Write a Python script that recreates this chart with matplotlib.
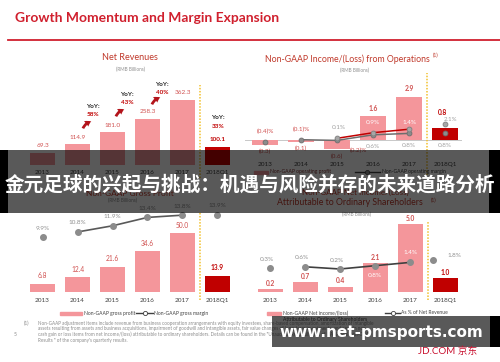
import matplotlib
matplotlib.use("Agg")
import matplotlib.pyplot as plt
from matplotlib.patches import Rectangle, FancyArrowPatch
from matplotlib.lines import Line2D

plt.rcParams['font.family'] = ['Lato', 'DejaVu Sans']

# ---- data ----
years = ['2013', '2014', '2015', '2016', '2017', '2018Q1']
revenue = [69.3, 114.9, 181.0, 258.3, 362.3, 100.1]
revenue_yoy = ['58%', '43%', '40%', '33%']
op_income = [-0.3, -0.1, -0.6, 1.6, 2.9, 0.8]
op_margin = [-0.4, -0.1, -0.2, 0.6, 0.8, 0.8]
op_margin_core = [0.1, 0.9, 1.4, 2.1]  # 2015 .. 2018Q1
gross_profit = [6.8, 12.4, 21.6, 34.6, 50.0, 13.9]
gross_margin = [9.9, 10.8, 11.9, 13.4, 13.8, 13.9]
net_income = [0.2, 0.7, 0.4, 2.1, 5.0, 1.0]
net_margin = [0.3, 0.6, 0.2, 0.8, 1.4, 1.8]

footnote = [
    "Non-GAAP adjustment items include revenue from business cooperation arrangements with equity investees, share-based compensation, amortization of intangible",
    "assets resulting from assets and business acquisitions, impairment of goodwill and intangible assets, fair value changes of long-term investments, and certain non-",
    "cash gain or loss items from net income/(loss) attributable to ordinary shareholders. Details can be found in the \"Unaudited Reconciliation of GAAP and Non-GAAP",
    "Results \" of the company's quarterly results.",
]

PINK = '#F4969B'
DARK = '#C00000'
LABEL = '#D0504F'
TITLE_RED = '#D0202E'
GRAY = '#808080'
GOLD = '#F2C12E'

W, H = 500, 362
fig = plt.figure(figsize=(5.0, 3.62), dpi=100)


def fx(x):
    return x / W


def fy(y):
    return 1 - y / H


def box(x0, y0, x1, y1):
    return [x0 / W, 1 - y1 / H, (x1 - x0) / W, (y1 - y0) / H]


def ptext(x, y, s, **kw):
    kw.setdefault('ha', 'center')
    kw.setdefault('va', 'center')
    return fig.text(fx(x), fy(y), s, **kw)


def pct(v):
    return '({:.1f})%'.format(-v) if v < 0 else '{:.1f}%'.format(v)


def num(v):
    return '({:.1f})'.format(-v) if v < 0 else '{:.1f}'.format(v)


def setup(ax, pad):
    for s in ax.spines.values():
        s.set_visible(False)
    ax.set_yticks([])
    ax.set_xticks(range(len(years)))
    ax.set_xticklabels(years, fontsize=4.6, color='#404040')
    ax.tick_params(axis='x', length=0, pad=pad)
    ax.axhline(0, color='#C8C8C8', lw=0.7, zorder=1)


def divider(ax, y0, y1, top, bot):
    h = y1 - y0
    ax.axvline(4.5, ymin=(y1 - bot) / h, ymax=(y1 - top) / h, color=GOLD,
               ls=(0, (1, 1)), lw=1.1, clip_on=False)


def bars(ax, vals):
    colors = [PINK] * (len(vals) - 1) + [DARK]
    return ax.bar(range(len(vals)), vals, width=0.714, color=colors, zorder=2)


# ---- slide title ----
ptext(15, 18, 'Growth Momentum and Margin Expansion', ha='left', fontsize=10.0,
      fontweight='bold', color=TITLE_RED)
fig.add_artist(Line2D([fx(8), 1], [fy(40), fy(40)], color=TITLE_RED, lw=1.3))

# ---- Net revenues ----
ax1 = fig.add_axes(box(20, 80, 240, 165))
ax1.set_xlim(-0.643, 5.643)
ax1.set_ylim(0, 85 / 0.18)
setup(ax1, 3.5)
bars(ax1, revenue)
for i, v in enumerate(revenue):
    last = i == len(revenue) - 1
    ax1.annotate('{:.1f}'.format(v), (i, v), xytext=(0, 7), textcoords='offset pixels',
                 ha='center', va='center', fontsize=4.6,
                 color=DARK if last else LABEL, fontweight='bold' if last else 'normal')
divider(ax1, 80, 165, 85, 178)
ptext(130, 58, 'Net Revenues', fontsize=6.5, color='#C0392B')
ptext(130, 69, '(RMB Billions)', fontsize=3.4, color='#909090')
yoy_pos = [(93, 107), (127, 95), (162, 84), (218, 118)]
for (x, y), s in zip(yoy_pos, revenue_yoy):
    ptext(x, y, 'YoY:', fontsize=4.6, fontweight='bold', color='#262626')
    ptext(x, y + 8, s, fontsize=4.6, fontweight='bold', color=DARK)
for x, y in [(82, 131), (115, 119), (151, 107)]:
    fig.add_artist(FancyArrowPatch((fx(x), fy(y)), (fx(x + 12), fy(y - 10)),
                                   transform=fig.transFigure, connectionstyle='arc3,rad=-0.35',
                                   arrowstyle='simple,head_length=4,head_width=5,tail_width=2',
                                   mutation_scale=1, color='#B3141B', lw=0))

# ---- Non-GAAP income from operations ----
ax2 = fig.add_axes(box(245, 80, 462, 155))
ax2.set_xlim(-0.556, 5.47)
ax2.set_ylim(-15 / 15, 60 / 15)
setup(ax2, 5)
bars(ax2, op_income)
m2 = ax2.twinx()
m2.set_ylim(-16 / 7, 59 / 7)
m2.axis('off')
m2.plot([0], op_margin[:1], 'o', ms=3.5, color='#8C8C8C', mec='#6E6E6E', mew=0.6)
m2.plot(range(1, 5), op_margin[1:5], '-o', lw=1.1, ms=3.5, color='#6E6E6E',
        mfc='#8C8C8C', mec='#6E6E6E', mew=0.6)
m2.plot([5], op_margin[5:], 'o', ms=3.5, color='#8C8C8C', mec='#6E6E6E', mew=0.6)
m2.plot(range(2, 5), op_margin_core[:3], '-o', lw=1.1, ms=3.5, color=DARK,
        mfc='#A6A6A6', mec='#7F7F7F', mew=0.6)
m2.plot([5], op_margin_core[3:], 'o', ms=3.5, mfc='#A6A6A6', mec='#7F7F7F', mew=0.6)
for i, v in enumerate(op_income):
    last = i == len(op_income) - 1
    if v < 0:
        ax2.annotate(num(v), (i, v), xytext=(0, -7), textcoords='offset pixels',
                     ha='center', va='center', fontsize=4.6, color=LABEL)
    elif last:
        ax2.annotate(num(v), (i, v), xytext=(-3, 16), textcoords='offset pixels',
                     ha='center', va='center', fontsize=4.8, fontweight='bold', color=DARK)
    else:
        ax2.annotate(num(v), (i, v), xytext=(0, 8), textcoords='offset pixels',
                     ha='center', va='center', fontsize=4.8, fontweight='bold', color=LABEL)
for i, v in enumerate(op_margin):
    if i < 2:
        m2.annotate(pct(v), (i, v), xytext=(0, 10), textcoords='offset pixels',
                    ha='center', va='center', fontsize=4.6, color=LABEL)
    elif i == 2:
        m2.annotate(pct(v), (i, v), xytext=(21, -10), textcoords='offset pixels',
                    ha='center', va='center', fontsize=4.6, color=LABEL)
    else:
        m2.annotate(pct(v), (i, v), xytext=(0, -12), textcoords='offset pixels',
                    ha='center', va='center', fontsize=4.6, color='#A0A0A0')
for j, v in enumerate(op_margin_core):
    i = j + 2
    if i in (3, 4):
        m2.annotate(pct(v), (i, 0), xytext=(0, 17), textcoords='offset pixels',
                    ha='center', va='center', fontsize=4.6, color='white')
    elif i == 2:
        m2.annotate(pct(v), (i, v), xytext=(2, 11), textcoords='offset pixels',
                    ha='center', va='center', fontsize=4.6, color='#A0A0A0')
    else:
        m2.annotate(pct(v), (i, v), xytext=(5, 5), textcoords='offset pixels',
                    ha='center', va='center', fontsize=4.4, color='#A0A0A0')
divider(ax2, 80, 155, 73, 175)
ptext(347, 59, 'Non-GAAP Income/(Loss) from Operations', fontsize=6.3, color='#C0392B')
ptext(436, 55, '(1)', fontsize=3.5, color='#C0392B')
ptext(355, 70, '(RMB Billions)', fontsize=3.4, color='#909090')
fig.add_artist(Rectangle((fx(254), fy(174)), 14 / W, 3 / H, transform=fig.transFigure, color=PINK))
ptext(270, 172, 'Non-GAAP operating profit', ha='left', fontsize=3.6, color='#7F3030')
fig.add_artist(Line2D([fx(355), fx(380)], [fy(172)] * 2, color='#404040', lw=1.0))
fig.add_artist(Line2D([fx(367)], [fy(172)], marker='o', ms=3, color='#8C8C8C', mec='#404040', mew=0.5))
ptext(382, 172, 'Non-GAAP operating margin', ha='left', fontsize=3.6, color='#404040')

# ---- Non-GAAP gross profit ----
ax3 = fig.add_axes(box(20, 205, 240, 292))
ax3.set_xlim(-0.643, 5.643)
ax3.set_ylim(0, 87 / 1.18)
setup(ax3, 4)
bars(ax3, gross_profit)
m3 = ax3.twinx()
m3.set_ylim(9.9 - 55 / 5.6, 9.9 + 32 / 5.6)
m3.axis('off')
m3.plot([0], gross_margin[:1], 'o', ms=4, color='#8C8C8C')
m3.plot(range(1, 5), gross_margin[1:5], '-o', lw=1.2, ms=4, color='#595959', mfc='#8C8C8C', mec='#8C8C8C')
m3.plot([5], gross_margin[5:], 'o', ms=4, color='#8C8C8C')
for i, v in enumerate(gross_profit):
    last = i == len(gross_profit) - 1
    ax3.annotate('{:.1f}'.format(v), (i, v), xytext=(0, 8), textcoords='offset pixels',
                 ha='center', va='center', fontsize=4.8,
                 color=DARK if last else LABEL, fontweight='bold' if last else 'normal')
for i, v in enumerate(gross_margin):
    m3.annotate(pct(v), (i, v), xytext=(0, 9), textcoords='offset pixels',
                ha='center', va='center', fontsize=4.6, color='#909090')
divider(ax3, 205, 292, 212, 300)
ptext(130, 193, 'Non-GAAP Gross Profit', fontsize=6.0, color='#C0392B')
ptext(122, 200, '(RMB Billions)', fontsize=3.4, color='#909090')
fig.add_artist(Rectangle((fx(60), fy(314.5)), 22 / W, 3 / H, transform=fig.transFigure, color=PINK))
ptext(84, 313, 'Non-GAAP gross profit', ha='left', fontsize=3.6, color='#404040')
fig.add_artist(Line2D([fx(136), fx(153)], [fy(313)] * 2, color='#404040', lw=1.0))
fig.add_artist(Line2D([fx(144.5)], [fy(313)], marker='o', ms=3, color='white', mec='#404040', mew=0.6))
ptext(154, 313, 'Non-GAAP gross margin', ha='left', fontsize=3.6, color='#404040')

# ---- Non-GAAP net income ----
ax4 = fig.add_axes(box(248, 205, 468, 292))
ax4.set_xlim(-0.629, 5.657)
ax4.set_ylim(0, 87 / 13.6)
setup(ax4, 4)
bars(ax4, net_income)
m4 = ax4.twinx()
m4.set_ylim(-21.9 / 5.5, 65.1 / 5.5)
m4.axis('off')
m4.plot([0], net_margin[:1], 'o', ms=4, color='#8C8C8C')
m4.plot(range(1, 5), net_margin[1:5], '-o', lw=1.2, ms=4, color='#404040', mfc='#8C8C8C', mec='#8C8C8C')
m4.plot([4.65], net_margin[5:], 'o', ms=4, color='#8C8C8C')
for i, v in enumerate(net_income):
    last = i == len(net_income) - 1
    ax4.annotate('{:.1f}'.format(v), (i, v), xytext=(0, 6), textcoords='offset pixels',
                 ha='center', va='center', fontsize=4.8, fontweight='bold',
                 color=DARK if last else LABEL)
for i, v in enumerate(net_margin):
    if i in (3, 4):
        m4.annotate(pct(v), (i, v), xytext=(0, 10 if i == 4 else -10), textcoords='offset pixels',
                    ha='center', va='center', fontsize=4.6, color='white')
    elif i == 5:
        m4.annotate(pct(v), (4.65, v), xytext=(22, 5), textcoords='offset pixels',
                    ha='center', va='center', fontsize=4.6, color='#909090')
    else:
        m4.annotate(pct(v), (i, v), xytext=(-3, 9), textcoords='offset pixels',
                    ha='center', va='center', fontsize=4.6, color='#909090')
divider(ax4, 205, 292, 222, 300)
ptext(355, 192, 'Non-GAAP Net Income/(Loss)', fontsize=5.8, color='#C0392B')
ptext(350, 203, 'Attributable to Ordinary Shareholders', fontsize=6.3, color='#C0392B')
ptext(434, 200, '(1)', fontsize=3.5, color='#C0392B')
ptext(356, 214, '(RMB Billions)', fontsize=3.4, color='#909090')
fig.add_artist(Rectangle((fx(267), fy(314.5)), 14 / W, 3 / H, transform=fig.transFigure, color=PINK))
ptext(283, 313, 'Non-GAAP Net income/(loss)', ha='left', fontsize=3.6, color='#404040')
ptext(283, 319, 'Attributable to Ordinary Shareholders', ha='left', fontsize=3.6, color='#404040')
fig.add_artist(Line2D([fx(385), fx(400)], [fy(313)] * 2, color='#404040', lw=1.0))
fig.add_artist(Line2D([fx(392.5)], [fy(313)], marker='o', ms=3, color='white', mec='#404040', mew=0.6))
ptext(401, 313, 'As % of Net Revenue', ha='left', fontsize=3.6, color='#404040')

# ---- footnote ----
ptext(26, 323, '(1)', fontsize=3.4, color='#8C8C8C')
ptext(15, 334, '5', fontsize=3.6, color='#8C8C8C')
for k, line in enumerate(footnote):
    ptext(38, 323 + 5.7 * k, line, ha='left', fontsize=3.35, color='#8C8C8C')
ptext(418, 351, 'JD.COM 京东', ha='left', fontsize=7, color='#C8102E',
      family=['Lato', 'Noto Sans CJK SC'], zorder=12)

# ---- overlays ----
fig.add_artist(Rectangle((0, fy(213)), 1, 63 / H, transform=fig.transFigure,
                         color='black', alpha=0.65, lw=0, zorder=10))
for x0, x1 in [(0, 8), (489, 500)]:
    fig.add_artist(Rectangle((fx(x0), fy(213)), (x1 - x0) / W, 63 / H, transform=fig.transFigure,
                             color='black', lw=0, zorder=10))
ptext(249.5, 185, '金元足球的兴起与挑战：机遇与风险并存的未来道路分析', fontsize=14.1,
      fontweight='bold', color='white', family=['Noto Sans CJK SC', 'DejaVu Sans'], zorder=11)

fig.add_artist(Rectangle((fx(272), fy(347)), 218 / W, 31 / H, transform=fig.transFigure,
                         color='black', alpha=0.65, lw=0, zorder=10))
fig.add_artist(Rectangle((fx(490), fy(347)), 10 / W, 31 / H, transform=fig.transFigure,
                         color='black', lw=0, zorder=10))
ptext(381, 333, 'www.net-pmsports.com', fontsize=11.0, fontweight='bold', color='white',
      family='DejaVu Sans', zorder=11)

fig.savefig('out.png', dpi=100)
